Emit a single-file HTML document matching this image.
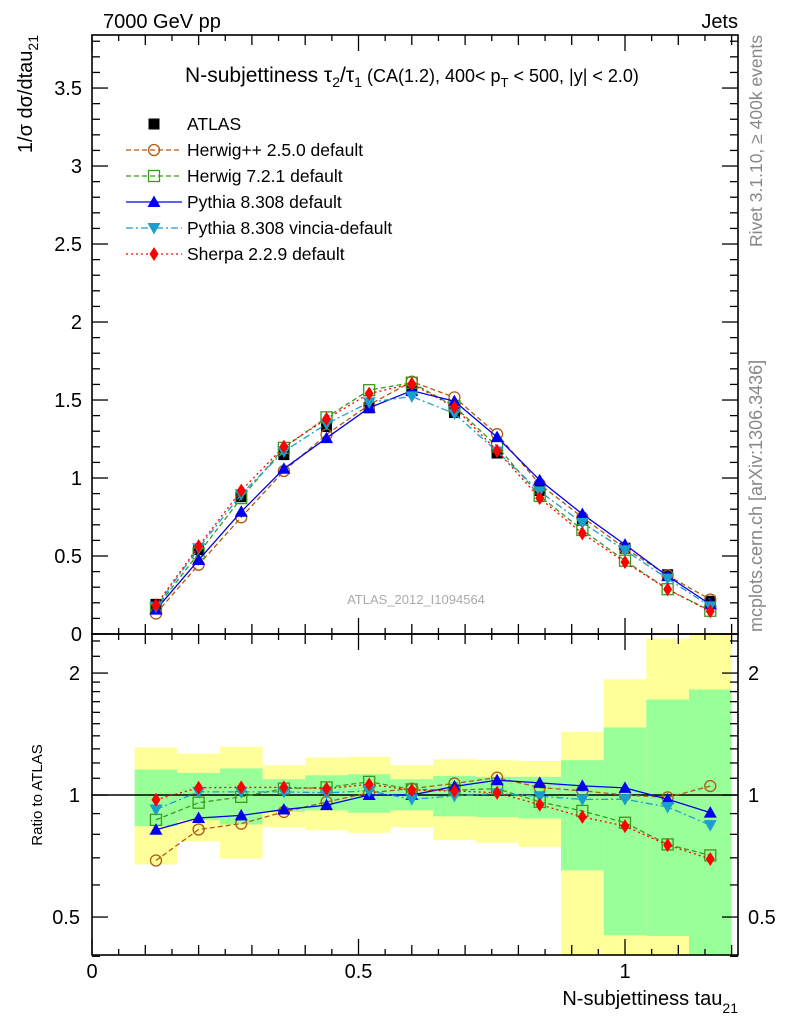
<!DOCTYPE html>
<html><head><meta charset="utf-8">
<style>
body{margin:0;background:#fff;}
svg{display:block;font-family:"Liberation Sans",sans-serif;}
</style></head>
<body>
<svg id="c" width="786" height="1024" viewBox="0 0 786 1024" xmlns="http://www.w3.org/2000/svg">
<text x="103" y="28" font-size="20">7000 GeV pp</text>
<text x="738" y="28" font-size="20" text-anchor="end">Jets</text>
<text x="412" y="82" font-size="21" text-anchor="middle">N-subjettiness τ<tspan font-size="14" dy="5">2</tspan><tspan dy="-5">/τ</tspan><tspan font-size="14" dy="5">1</tspan><tspan dy="-5" font-size="18"> (CA(1.2), 400&lt; p</tspan><tspan font-size="13" dy="5">T</tspan><tspan dy="-5" font-size="18"> &lt; 500, |y| &lt; 2.0)</tspan></text>
<text transform="translate(32,35) rotate(-90)" font-size="20" text-anchor="end">1/σ dσ/dtau<tspan font-size="14" dy="6">21</tspan></text>
<text transform="translate(762,35) rotate(-90)" font-size="17.5" fill="#888" text-anchor="end">Rivet 3.1.10, ≥ 400k events</text>
<text transform="translate(762,632) rotate(-90)" font-size="18" fill="#888">mcplots.cern.ch [arXiv:1306.3436]</text>
<text x="416" y="604" font-size="13" fill="#aaa" text-anchor="middle">ATLAS_2012_I1094564</text>
<text transform="translate(42,795) rotate(-90)" font-size="15" text-anchor="middle">Ratio to ATLAS</text>
<text x="738" y="1005" font-size="20" text-anchor="end">N-subjettiness tau<tspan font-size="14" dy="8">21</tspan></text>
<g id="g"></g>
</svg>
<script>
const binEdges=[0.08,0.16,0.24,0.32,0.40,0.48,0.56,0.64,0.72,0.80,0.88,0.96,1.04,1.12,1.20];
const xCenters=[0.12,0.2,0.28,0.36,0.44,0.52,0.6,0.68,0.76,0.84,0.92,1.0,1.08,1.16];
const atlas=[0.19,0.54,0.88,1.15,1.33,1.45,1.56,1.42,1.16,0.92,0.73,0.55,0.38,0.21];
const herwigpp=[0.131,0.444,0.748,1.045,1.279,1.469,1.618,1.517,1.281,0.960,0.748,0.55,0.375,0.221];
const herwig7=[0.165,0.517,0.871,1.193,1.389,1.563,1.611,1.460,1.203,0.885,0.667,0.470,0.287,0.149];
const pythia=[0.156,0.474,0.784,1.059,1.256,1.45,1.56,1.492,1.262,0.986,0.769,0.573,0.371,0.190];
const vincia=[0.175,0.550,0.896,1.171,1.347,1.485,1.523,1.413,1.170,0.914,0.712,0.537,0.355,0.177];
const sherpa=[0.185,0.563,0.919,1.201,1.379,1.541,1.604,1.454,1.175,0.871,0.645,0.461,0.286,0.146];
const bandTotHi=[1.310,1.266,1.315,1.185,1.238,1.243,1.185,1.226,1.219,1.214,1.432,1.931,2.434,2.6];
const bandTotLo=[0.674,0.769,0.697,0.834,0.819,0.807,0.834,0.774,0.763,0.745,0.3,0.3,0.3,0.3];
const bandStatHi=[1.156,1.134,1.163,1.094,1.119,1.126,1.094,1.115,1.109,1.109,1.219,1.468,1.721,1.822];
const bandStatLo=[0.838,0.867,0.846,0.909,0.917,0.904,0.917,0.886,0.883,0.875,0.652,0.451,0.449,0.3];
const mainYTicks=["0","0.5","1","1.5","2","2.5","3","3.5"];
const xTickLabels=["0","0.5","1"];
const ratioTickLabels=["0.5","1","2"];

const NS="http://www.w3.org/2000/svg";
const G=document.getElementById('g');
const L=92,R=738,T=35,MB=634,RB=955;
const X0=0,X1=1.212,Y1=3.84,RL=0.403,RH=2.497;
const sx=v=>L+(v-X0)/(X1-X0)*(R-L);
const sy=v=>MB-v/Y1*(MB-T);
const sr=v=>MB+(Math.log10(RH)-Math.log10(v))/(Math.log10(RH)-Math.log10(RL))*(RB-MB);
function el(tag,attrs,parent){const e=document.createElementNS(NS,tag);for(const k in attrs)e.setAttribute(k,attrs[k]);(parent||G).appendChild(e);return e;}

const defs=el('defs',{});
const c1=el('clipPath',{id:'cm'},defs);el('rect',{x:L,y:T,width:R-L,height:MB-T},c1);
const c2=el('clipPath',{id:'cr'},defs);el('rect',{x:L,y:MB,width:R-L,height:RB-MB},c2);

const bandG=el('g',{'clip-path':'url(#cr)'});


for(let i=0;i<xCenters.length;i++){
  const x0=sx(binEdges[i]),x1=sx(binEdges[i+1]);
  const r1=el('rect',{x:x0,y:sr(bandTotHi[i]),width:x1-x0,height:sr(bandTotLo[i])-sr(bandTotHi[i]),fill:'#ffff99'},bandG);
  
  
  const r2=el('rect',{x:x0,y:sr(bandStatHi[i]),width:x1-x0,height:sr(bandStatLo[i])-sr(bandStatHi[i]),fill:'#99ff99'},bandG);
  
  
}
const one=el('line',{x1:L,x2:R,y1:sr(1),y2:sr(1),stroke:'#000','stroke-width':1.5});



function tick(x1,y1,x2,y2){el('line',{x1,y1,x2,y2,stroke:'#000','stroke-width':1.3});}
for(const [t,b] of [[T,MB],[MB,RB]]){
  const f=el('rect',{x:L,y:t,width:R-L,height:b-t,fill:'none',stroke:'#000','stroke-width':1.6});
  
  
  for(let k=0;k<=24;k++){const v=k*0.05;if(v>X1)break;const x=sx(v);
    const len=(k%10===0)?16:(k%2===0?10:6);
    tick(x,b,x,b-len);tick(x,t,x,t+len);}
}
for(let k=0;k<=38;k++){const v=k*0.1;const y=sy(v);const len=(k%5===0)?16:8;tick(L,y,L+len,y);tick(R,y,R-len,y);}
mainYTicks.forEach((s,i)=>{const t=el('text',{x:82,y:sy(parseFloat(s))+7,'font-size':20,'text-anchor':'end'});t.textContent=s;
  });
const rt=[];for(let v=0.4;v<2.01;v+=0.1)rt.push(+v.toFixed(1));rt.push(2.2,2.4);
rt.forEach(v=>{const y=sr(v);const big=(v===0.5||v===1||v===2);const len=big?16:8;tick(L,y,L+len,y);tick(R,y,R-len,y);});
ratioTickLabels.forEach(s=>{const y=sr(parseFloat(s))+7;
  const a=el('text',{x:80,y,'font-size':20,'text-anchor':'end'});a.textContent=s;
  
  const b=el('text',{x:748,y,'font-size':20});b.textContent=s;
  });
xTickLabels.forEach(s=>{const t=el('text',{x:sx(parseFloat(s)),y:978,'font-size':20,'text-anchor':'middle'});t.textContent=s;
  });

function marker(type,x,y,color,parent){
  const s=5.5;
  if(type==='sq')return el('rect',{x:x-s,y:y-s,width:2*s,height:2*s,fill:'#000'},parent);
  if(type==='circ')return el('circle',{cx:x,cy:y,r:5.5,fill:'none',stroke:color,'stroke-width':1.3},parent);
  if(type==='osq')return el('rect',{x:x-s,y:y-s,width:2*s,height:2*s,fill:'none',stroke:color,'stroke-width':1.3},parent);
  if(type==='tri')return el('polygon',{points:`${x},${y-6.5} ${x-6.5},${y+5} ${x+6.5},${y+5}`,fill:color},parent);
  if(type==='itri')return el('polygon',{points:`${x},${y+6.5} ${x-6.5},${y-5} ${x+6.5},${y-5}`,fill:color},parent);
  if(type==='dia')return el('polygon',{points:`${x},${y-7} ${x-4.5},${y} ${x},${y+7} ${x+4.5},${y}`,fill:color},parent);
}
const series=[
 {name:'herwigpp',label:'Herwig++ 2.5.0 default',vals:herwigpp,color:'#b05a10',dash:'5,3',m:'circ'},
 {name:'herwig7',label:'Herwig 7.2.1 default',vals:herwig7,color:'#3a9a1a',dash:'5,3',m:'osq'},
 {name:'pythia',label:'Pythia 8.308 default',vals:pythia,color:'#0000ee',dash:'',m:'tri'},
 {name:'vincia',label:'Pythia 8.308 vincia-default',vals:vincia,color:'#1a9fcc',dash:'7,3,2,3',m:'itri'},
 {name:'sherpa',label:'Sherpa 2.2.9 default',vals:sherpa,color:'#ff0000',dash:'2,3',m:'dia'}
];
const mainG=el('g',{'clip-path':'url(#cm)'});
const ratG=el('g',{'clip-path':'url(#cr)'});
const ag=el('g',{},mainG);

xCenters.forEach((x,i)=>{const m=marker('sq',sx(x),sy(atlas[i]),'#000',ag);
  });
series.forEach(s=>{
  for(const [par,fy,vals] of [[mainG,sy,s.vals],[ratG,sr,s.vals.map((v,i)=>v/atlas[i])]]){
    const g=el('g',{},par);
    
    
    const pts=xCenters.map((x,i)=>sx(x)+','+fy(vals[i])).join(' ');
    const pl=el('polyline',{points:pts,fill:'none',stroke:s.color,'stroke-width':1.3,'stroke-dasharray':s.dash},g);
    
    
    xCenters.forEach((x,i)=>{const m=marker(s.m,sx(x),fy(vals[i]),s.color,g);
      
      });
  }
});
const lg=el('g',{});

const e0=el('g',{},lg);
marker('sq',154,124,'#000',e0);
const t0=el('text',{x:187,y:130,'font-size':17.5},e0);t0.textContent='ATLAS';
series.forEach((s,i)=>{const y=150+i*26;
  const e=el('g',{},lg);
  
  
  el('line',{x1:126,x2:182,y1:y,y2:y,stroke:s.color,'stroke-width':1.3,'stroke-dasharray':s.dash},e);
  marker(s.m,154,y,s.color,e);
  const t=el('text',{x:187,y:y+6,'font-size':17.5},e);t.textContent=s.label;});
</script>
</body></html>
